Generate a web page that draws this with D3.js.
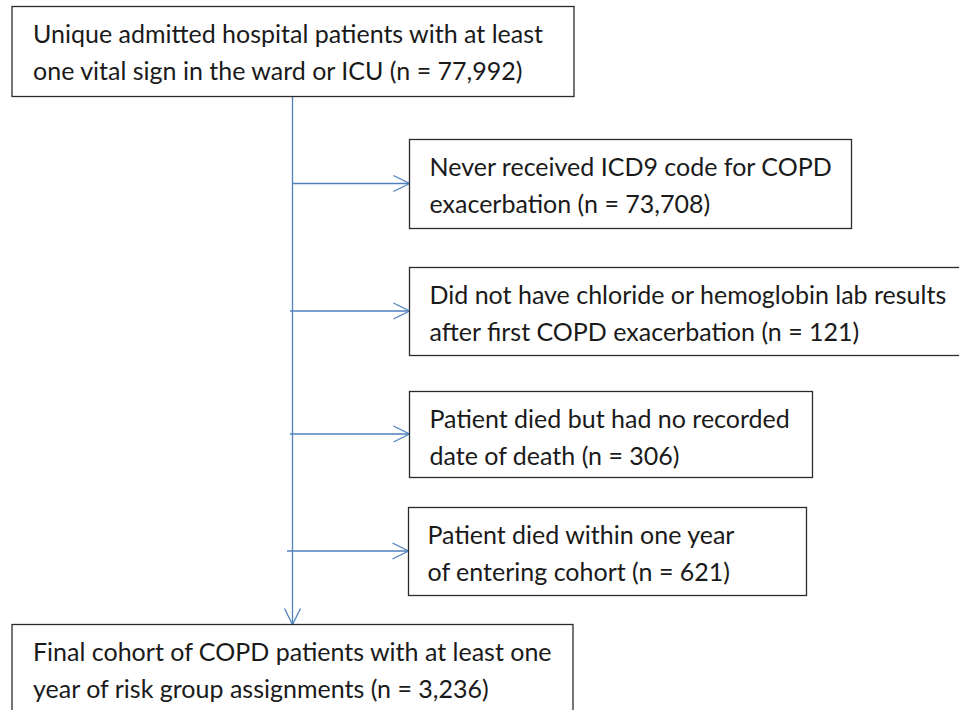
<!doctype html>
<html>
<head>
    <meta charset="UTF-8">
    <title>COPD cohort flow</title>
    <script src="https://d3js.org/d3.v7.min.js"></script>
    <style>
        body { margin: 0; background: #fff; }
        .box text {
            font-family: Lato, "Open Sans", sans-serif;
            font-size: 25px;
            fill: #1a1a1a;
        }
    </style>
</head>
<body>
<script>
    // box texts, top to bottom
    var startLines = ["Unique admitted hospital patients with at least", "one vital sign in the ward or ICU"];
    var startCount = "77,992";

    var exclusionLines = [
        ["Never received ICD9 code for COPD", "exacerbation"],
        ["Did not have chloride or hemoglobin lab results", "after first COPD exacerbation"],
        ["Patient died but had no recorded", "date of death"],
        ["Patient died within one year", "of entering cohort"]
    ];
    var exclusionCounts = ["73,708", "121", "306", "621"];

    var finalLines = ["Final cohort of COPD patients with at least one", "year of risk group assignments"];
    var finalCount = "3,236";

    var width = 959, height = 710;
    var lineColor = "#4f81bd";

    var svg = d3.select("body").append("svg")
        .attr("width", width)
        .attr("height", height);

    // box geometry
    var mainX = 12, mainW = 562, mainH = 90;
    var spineX = 292.5;
    var exTop = [139.5, 267.5, 391.5, 507.5];
    var exH   = [89, 88, 86, 88];
    var exX   = [409.5, 409.5, 409.5, 408.5];
    var exW   = [442, 560, 403, 398];
    var armStart = [292, 290, 290, 287];

    var stepY = d3.scaleLinear().domain([0, 1]).range([6.5, 624.5]);

    function addLines(lines, count) {
        var out = lines.slice();
        out[out.length - 1] = out[out.length - 1] + " (n = " + count + ")";
        return out;
    }

    function drawBox(x, y, w, h, lines, tx) {
        var g = svg.append("g").attr("class", "box");
        g.append("rect")
            .attr("x", x).attr("y", y)
            .attr("width", w).attr("height", h)
            .style("fill", "#fff")
            .style("stroke", "#2b2b2b")
            .style("stroke-width", 1.3);
        g.selectAll("text")
            .data(lines)
            .enter()
            .append("text")
            .attr("x", x + tx)
            .attr("y", function (d, i) { return y + 36 + i * 37; })
            .text(function (d) { return d; });
    }

    function chevron(tipX, tipY, dir) {
        var p;
        if (dir === "right") {
            p = [[tipX - 16, tipY - 8], [tipX, tipY], [tipX - 16, tipY + 8]];
        } else {
            p = [[tipX - 8, tipY - 16], [tipX, tipY], [tipX + 8, tipY - 16]];
        }
        svg.append("path")
            .attr("d", d3.line()(p))
            .style("fill", "none")
            .style("stroke", lineColor)
            .style("stroke-width", 1.3);
    }

    var topY = stepY(0), bottomY = stepY(1);

    // spine
    svg.append("line")
        .attr("x1", spineX).attr("x2", spineX)
        .attr("y1", topY + mainH).attr("y2", bottomY)
        .style("stroke", lineColor)
        .style("stroke-width", 1.3);
    chevron(spineX, bottomY, "down");

    // exclusion arms and boxes
    exclusionLines.forEach(function (lines, i) {
        var midY = exTop[i] + exH[i] / 2 - 0.5;
        svg.append("line")
            .attr("x1", armStart[i]).attr("x2", exX[i])
            .attr("y1", midY).attr("y2", midY)
            .style("stroke", lineColor)
            .style("stroke-width", 1.3);
        chevron(exX[i], midY, "right");
        drawBox(exX[i], exTop[i], exW[i], exH[i], addLines(lines, exclusionCounts[i]), i === 3 ? 19 : 20);
    });

    drawBox(mainX, topY, mainW, mainH, addLines(startLines, startCount), 21);
    drawBox(mainX, bottomY, 561, 100, addLines(finalLines, finalCount), 21);
</script>
</body>
</html>
